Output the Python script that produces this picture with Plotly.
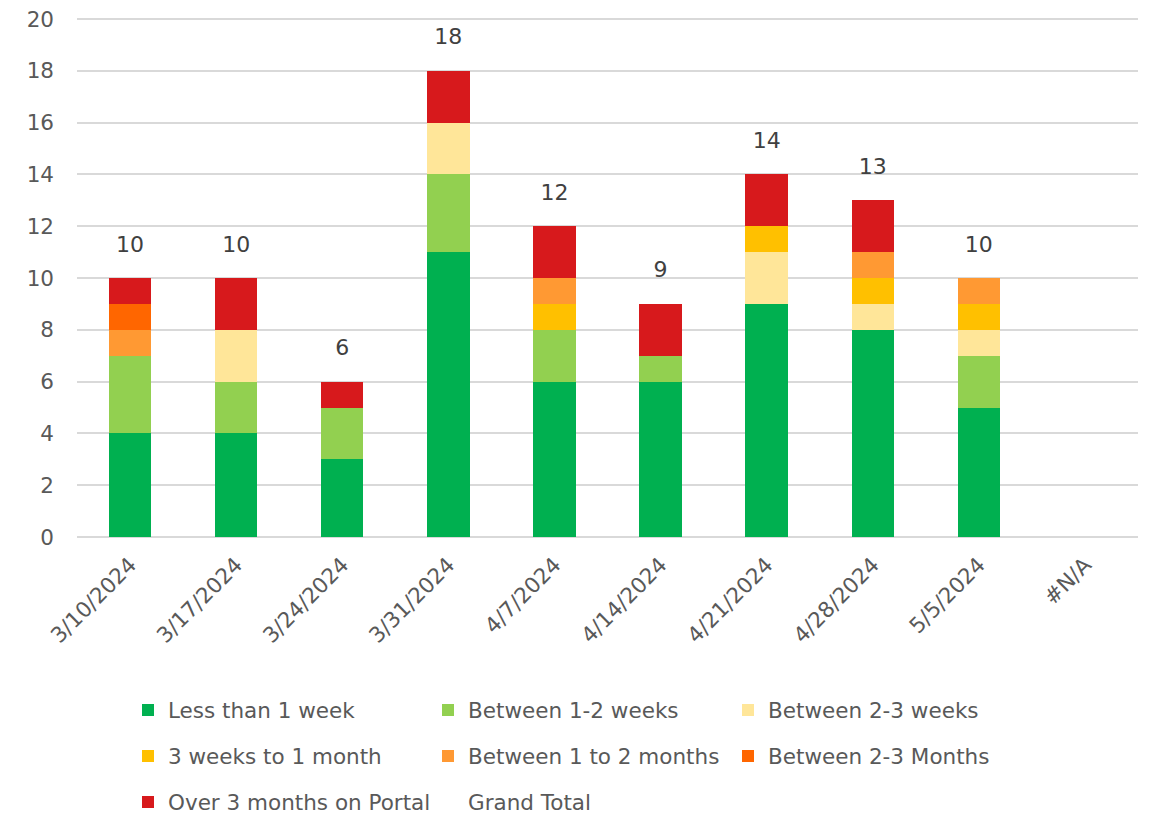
import plotly.graph_objects as go

categories = ["3/10/2024", "3/17/2024", "3/24/2024", "3/31/2024", "4/7/2024",
              "4/14/2024", "4/21/2024", "4/28/2024", "5/5/2024", "#N/A"]

less_1_week = [4, 4, 3, 11, 6, 6, 9, 8, 5, None]
between_1_2_weeks = [3, 2, 2, 3, 2, 1, 0, 0, 2, None]
between_2_3_weeks = [0, 2, 0, 2, 0, 0, 2, 1, 1, None]
weeks3_to_1_month = [0, 0, 0, 0, 1, 0, 1, 1, 1, None]
between_1_2_months = [1, 0, 0, 0, 1, 0, 0, 1, 1, None]
between_2_3_months = [1, 0, 0, 0, 0, 0, 0, 0, 0, None]
over_3_months = [1, 2, 1, 2, 2, 2, 2, 2, 0, None]
grand_total = [10, 10, 6, 18, 12, 9, 14, 13, 10, None]

series = [
    ("Less than 1 week", less_1_week, "#00B050", "legend"),
    ("Between 1-2 weeks", between_1_2_weeks, "#92D050", "legend"),
    ("Between 2-3 weeks", between_2_3_weeks, "#FFE699", "legend"),
    ("3 weeks to 1 month", weeks3_to_1_month, "#FFC000", "legend2"),
    ("Between 1 to 2 months", between_1_2_months, "#FF9933", "legend2"),
    ("Between 2-3 Months", between_2_3_months, "#FF6600", "legend2"),
    ("Over 3 months on Portal", over_3_months, "#D7191C", "legend3"),
]

FONT = "DejaVu Sans, Verdana, sans-serif"
GRAY = "#595959"
FS = 21.5

# page has an 8px body margin; work in page pixels and convert
OFF = 8
W, H = 1153 - OFF, 814 - OFF
plot_left, plot_right = 77 - OFF, 1138 - OFF
plot_top, plot_bottom = 18 - OFF, 537 - OFF
plot_h = plot_bottom - plot_top
plot_w = plot_right - plot_left
YMAX = 20.04

fig = go.Figure()
for name, vals, color, lg in series:
    fig.add_trace(go.Bar(x=categories, y=vals, name=name, legend=lg,
                         marker=dict(color=color, line=dict(width=0)),
                         hoverinfo="skip"))

fig.add_trace(go.Scatter(
    x=categories, y=grand_total, name="Grand Total", legend="legend3",
    mode="markers+text",
    marker=dict(size=32, color="rgba(0,0,0,0)"),
    text=[str(v) if v is not None else "" for v in grand_total],
    textposition="top center",
    textfont=dict(size=22, color="#404040", family=FONT),
    cliponaxis=False,
    hoverinfo="skip",
))

legend_item_start_px = 128 - OFF


def legend_at(row_center_page_px):
    row = row_center_page_px - OFF
    return dict(orientation="h", x=(legend_item_start_px - plot_left) / plot_w,
                xanchor="left",
                y=-(row - plot_bottom) / plot_h, yanchor="middle",
                entrywidth=255, entrywidthmode="pixels", traceorder="normal",
                font=dict(size=FS, color=GRAY, family=FONT),
                bgcolor="rgba(0,0,0,0)")


fig.update_layout(
    width=W, height=H,
    barmode="stack",
    bargap=0.6,
    plot_bgcolor="white", paper_bgcolor="white",
    margin=dict(l=plot_left, r=W - plot_right, t=plot_top, b=H - plot_bottom,
                autoexpand=False),
    font=dict(family=FONT, size=FS, color=GRAY),
    showlegend=True,
    legend=legend_at(710),
    legend2=legend_at(756),
    legend3=legend_at(802),
    xaxis=dict(tickangle=-45, showgrid=False, showline=False, ticks="",
               range=[-0.5, len(categories) - 0.5], autorange=False,
               ticklabelstandoff=10,
               tickfont=dict(size=FS, color=GRAY), categoryorder="array",
               categoryarray=categories),
    yaxis=dict(range=[0, YMAX], autorange=False, tickvals=list(range(0, 21, 2)),
               showgrid=True, gridcolor="#D9D9D9", ticklabeloverflow="allow",
               gridwidth=2, zeroline=True, zerolinecolor="#D9D9D9", zerolinewidth=2,
               tickfont=dict(size=FS, color=GRAY), ticks="", ticklabelstandoff=22),
)

fig.write_html("out.html")
